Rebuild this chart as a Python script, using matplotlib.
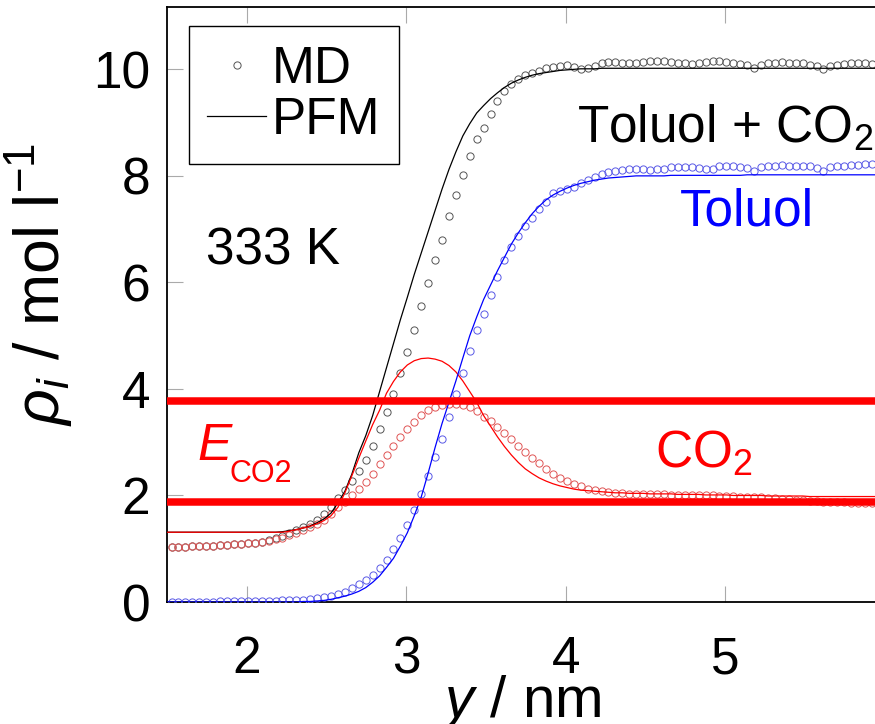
import numpy as np
import matplotlib
matplotlib.use("Agg")
import matplotlib.pyplot as plt

plt.rcParams['font.family'] = ['Liberation Sans', 'DejaVu Sans']
plt.rcParams['mathtext.fontset'] = 'custom'
plt.rcParams['mathtext.rm'] = 'Liberation Sans'
plt.rcParams['mathtext.it'] = 'Liberation Sans:italic'
plt.rcParams['mathtext.bf'] = 'Liberation Sans:bold'

# ---- data (nm, mol/l) ----
md_start = 1.528
md_step = 0.0435
x_md = md_start + md_step * np.arange(102)
x_pfm = md_start + md_step * np.arange(-1, 103)

md_total = [
    1.03, 1.03, 1.04, 1.05, 1.05, 1.06, 1.06, 1.07, 1.07, 1.08,
    1.09, 1.10, 1.11, 1.13, 1.16, 1.20, 1.24, 1.29, 1.35, 1.40,
    1.46, 1.54, 1.65, 1.79, 1.95, 2.10, 2.27, 2.46, 2.66, 2.92,
    3.25, 3.56, 3.91, 4.29, 4.69, 5.10, 5.55, 5.98, 6.42, 6.79,
    7.24, 7.65, 8.01, 8.37, 8.70, 8.90, 9.17, 9.40, 9.59, 9.73,
    9.81, 9.89, 9.94, 9.97, 10.03, 10.04, 10.06, 10.08, 10.05, 10.00,
    10.02, 10.06, 10.12, 10.14, 10.14, 10.12, 10.11, 10.12, 10.14, 10.15,
    10.16, 10.15, 10.13, 10.11, 10.11, 10.10, 10.12, 10.14, 10.15, 10.15,
    10.13, 10.11, 10.10, 10.08, 10.03, 10.09, 10.12, 10.12, 10.13, 10.12,
    10.12, 10.11, 10.09, 10.06, 10.01, 10.07, 10.09, 10.10, 10.11, 10.11,
    10.12, 10.10]

md_toluol = [
    0.00, 0.00, 0.00, 0.00, 0.00, 0.00, 0.00, 0.01, 0.01, 0.01,
    0.01, 0.01, 0.02, 0.02, 0.02, 0.02, 0.03, 0.03, 0.04, 0.04,
    0.06, 0.07, 0.09, 0.11, 0.15, 0.19, 0.26, 0.33, 0.41, 0.51,
    0.64, 0.79, 0.99, 1.20, 1.44, 1.73, 2.03, 2.37, 2.72, 3.06,
    3.48, 3.91, 4.30, 4.71, 5.10, 5.41, 5.77, 6.11, 6.42, 6.67,
    6.88, 7.05, 7.20, 7.37, 7.51, 7.67, 7.71, 7.76, 7.80, 7.86,
    7.92, 7.98, 8.04, 8.07, 8.09, 8.11, 8.12, 8.12, 8.13, 8.11,
    8.12, 8.13, 8.16, 8.16, 8.17, 8.16, 8.15, 8.12, 8.12, 8.18,
    8.18, 8.19, 8.17, 8.15, 8.10, 8.17, 8.19, 8.19, 8.20, 8.19,
    8.19, 8.19, 8.18, 8.15, 8.10, 8.17, 8.18, 8.19, 8.20, 8.21,
    8.22, 8.23]

md_co2 = [
    1.03, 1.03, 1.04, 1.05, 1.05, 1.06, 1.06, 1.07, 1.07, 1.08,
    1.09, 1.10, 1.10, 1.12, 1.15, 1.18, 1.21, 1.25, 1.30, 1.35,
    1.40, 1.46, 1.54, 1.66, 1.79, 1.88, 2.00, 2.13, 2.25, 2.41,
    2.60, 2.76, 2.92, 3.10, 3.24, 3.37, 3.51, 3.60, 3.67, 3.70,
    3.72, 3.72, 3.69, 3.66, 3.59, 3.48, 3.39, 3.28, 3.17, 3.06,
    2.92, 2.82, 2.71, 2.61, 2.50, 2.40, 2.33, 2.27, 2.22, 2.17,
    2.12, 2.10, 2.09, 2.07, 2.05, 2.04, 2.03, 2.03, 2.03, 2.02,
    2.02, 2.02, 2.01, 2.01, 2.01, 2.00, 2.00, 2.00, 2.00, 1.99,
    1.99, 1.99, 1.98, 1.98, 1.98, 1.97, 1.96, 1.95, 1.94, 1.93,
    1.92, 1.91, 1.90, 1.89, 1.88, 1.88, 1.87, 1.87, 1.86, 1.86,
    1.85, 1.85]

pfm_total = [1.31,
    1.31, 1.31, 1.31, 1.31, 1.31, 1.31, 1.31, 1.31, 1.31, 1.31,
    1.31, 1.31, 1.31, 1.31, 1.31, 1.31, 1.32, 1.34, 1.36, 1.39,
    1.43, 1.49, 1.56, 1.67, 1.86, 2.08, 2.40, 2.80, 3.12, 3.50,
    3.95, 4.40, 4.85, 5.30, 5.72, 6.15, 6.55, 6.95, 7.35, 7.75,
    8.12, 8.45, 8.75, 8.98, 9.18, 9.32, 9.45, 9.56, 9.66, 9.74,
    9.80, 9.85, 9.89, 9.92, 9.94, 9.96, 9.98, 9.99, 10.00, 10.01,
    10.01, 10.01, 10.02, 10.02, 10.02, 10.02, 10.02, 10.02, 10.02, 10.02,
    10.02, 10.02, 10.02, 10.02, 10.02, 10.02, 10.02, 10.02, 10.02, 10.02,
    10.02, 10.02, 10.02, 10.02, 10.02, 10.02, 10.02, 10.02, 10.02, 10.02,
    10.02, 10.02, 10.02, 10.02, 10.02, 10.02, 10.02, 10.02, 10.02, 10.02,
    10.02, 10.02, 10.02]

pfm_toluol = [0.00,
    0.00, 0.00, 0.00, 0.00, 0.00, 0.00, 0.00, 0.00, 0.00, 0.00,
    0.00, 0.00, 0.00, 0.00, 0.00, 0.00, 0.00, 0.00, 0.00, 0.01,
    0.01, 0.02, 0.03, 0.05, 0.08, 0.11, 0.15, 0.20, 0.27, 0.37,
    0.49, 0.65, 0.82, 1.05, 1.30, 1.62, 1.97, 2.42, 2.90, 3.35,
    3.75, 4.15, 4.58, 5.00, 5.35, 5.68, 5.95, 6.22, 6.47, 6.72,
    6.93, 7.12, 7.29, 7.43, 7.55, 7.64, 7.71, 7.77, 7.82, 7.86,
    7.89, 7.92, 7.94, 7.96, 7.97, 7.98, 7.99, 8.00, 8.00, 8.00,
    8.00, 8.00, 8.01, 8.01, 8.01, 8.01, 8.01, 8.01, 8.01, 8.01,
    8.01, 8.01, 8.01, 8.02, 8.02, 8.02, 8.02, 8.02, 8.02, 8.02,
    8.02, 8.02, 8.02, 8.02, 8.02, 8.02, 8.02, 8.02, 8.02, 8.02,
    8.02, 8.02, 8.02]

pfm_co2 = [1.31,
    1.31, 1.31, 1.31, 1.31, 1.31, 1.31, 1.31, 1.31, 1.31, 1.31,
    1.31, 1.31, 1.31, 1.31, 1.31, 1.31, 1.31, 1.33, 1.36, 1.39,
    1.42, 1.47, 1.53, 1.62, 1.78, 2.05, 2.37, 2.70, 3.02, 3.33,
    3.60, 3.92, 4.14, 4.32, 4.45, 4.53, 4.57, 4.58, 4.56, 4.52,
    4.44, 4.32, 4.15, 3.95, 3.75, 3.50, 3.30, 3.10, 2.92, 2.76,
    2.62, 2.50, 2.41, 2.33, 2.27, 2.22, 2.18, 2.15, 2.12, 2.10,
    2.09, 2.08, 2.07, 2.06, 2.05, 2.05, 2.04, 2.04, 2.04, 2.03,
    2.03, 2.03, 2.03, 2.02, 2.02, 2.02, 2.02, 2.01, 2.01, 2.01,
    2.01, 2.00, 2.00, 2.00, 2.00, 2.00, 1.99, 1.99, 1.99, 1.99,
    1.99, 1.99, 1.98, 1.98, 1.98, 1.98, 1.98, 1.98, 1.98, 1.98,
    1.98, 1.98, 1.98]

e_co2_levels = [1.885, 3.78]

xticks = [2, 3, 4, 5]
yticks = [0, 2, 4, 6, 8, 10]

# ---- figure ----
fig = plt.figure(figsize=(8.75, 7.24), dpi=100)
ax = fig.add_axes([0.1909, 0.1685, 0.8091, 0.8218])

FS = 37

mk = dict(marker='o', ls='none', mfc='none', ms=5.2, mew=0.7)
md_handle, = ax.plot(x_md, md_total, mec='#555555', label='MD', zorder=3, **mk)
ax.plot(x_md, md_co2, mec='#e05555', zorder=3, **mk)
ax.plot(x_md, md_toluol, mec='#5a5ae6', zorder=3, **mk)

pfm_handle, = ax.plot(x_pfm, pfm_total, color='black', lw=0.9, label='PFM', zorder=4)
ax.plot(x_pfm, pfm_co2, color='#ff0000', lw=0.9, zorder=4)
ax.plot(x_pfm, pfm_toluol, color='#0000ff', lw=0.9, zorder=4)

for lev in e_co2_levels:
    ax.axhline(lev, color='#ff0000', lw=5.4, zorder=5)

ax.set_xlim(1.5, 5.94)
ax.set_ylim(0, 11.17)
ax.set_xticks(xticks)
ax.set_yticks(yticks)
ax.tick_params(axis='both', which='major', direction='in', length=11.5,
               width=0.8, color='#aaaaaa', labelsize=FS, top=True, right=False)
ax.tick_params(axis='x', pad=24)
ax.tick_params(axis='y', pad=12)
ax.spines['right'].set_visible(False)
for s in ['left', 'bottom', 'top']:
    ax.spines[s].set_linewidth(1.3)

ax.set_xlabel(r'$y$ / nm', fontsize=42)
ax.xaxis.set_label_coords(0.5, -0.119)
ax.xaxis.label.set_va('top')
ax.set_ylabel(r'$\rho_i$ / mol l$^{-1}$', fontsize=45)
ax.yaxis.set_label_coords(-0.13, 0.533)

leg = ax.legend(handles=[md_handle, pfm_handle], loc='upper left',
                bbox_to_anchor=(0.031, 0.968), borderaxespad=0,
                fontsize=FS, frameon=True, fancybox=False, edgecolor='black',
                framealpha=1, handlelength=1.13, handletextpad=0.13,
                borderpad=0.36, labelspacing=0.05)
leg.get_frame().set_linewidth(1.0)
leg.set_zorder(6)

ax.text(1.747, 6.33, '333 K', fontsize=FS, color='black', va='baseline', ha='left')
ax.text(4.069, 8.63, 'Toluol + CO$_2$', fontsize=FS, color='black', va='baseline', ha='left')
ax.text(4.715, 7.07, 'Toluol', fontsize=FS, color='#0000ff', va='baseline', ha='left')
ax.text(4.558, 2.53, 'CO$_2$', fontsize=FS, color='#ff0000', va='baseline', ha='left')
ax.text(1.687, 2.67, r'$E$', fontsize=FS, color='#ff0000', va='baseline', ha='left')
ax.text(1.893, 2.26, 'CO2', fontsize=22, color='#ff0000', va='baseline', ha='left')

fig.savefig('out.png', dpi=100)
